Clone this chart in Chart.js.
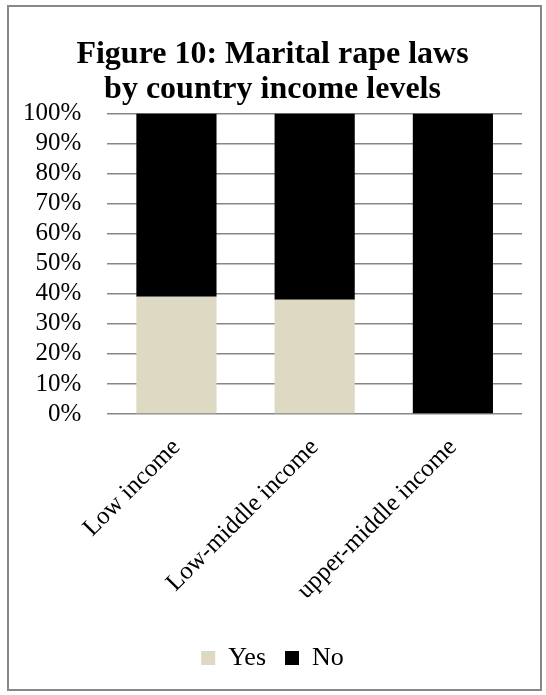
<!DOCTYPE html>
<html lang="en">
<head>
  <meta charset="UTF-8" />
  <title>Figure 10</title>
  <style>
    html, body { margin: 0; padding: 0; background: #fff; }
    .chart-box {
      position: absolute; left: 7px; top: 5px;
      width: 535px; height: 686px;
      border: 2px solid #888; box-sizing: border-box;
    }
  </style>
</head>
<body>

<div class="chart-box">
  <canvas id="rapeLawChart"></canvas>
</div>

<script src="https://cdn.jsdelivr.net/npm/chart.js"></script>
<script>
  const categories = ['Low income', 'Low-middle income', 'upper-middle income'];
  const yesValues = [39, 38, 0];
  const noValues = [61, 62, 100];

  const serif = 'Liberation Serif, Times New Roman, serif';

  new Chart(document.getElementById('rapeLawChart'), {
    type: 'bar',
    data: {
      labels: categories,
      datasets: [
        { label: 'Yes', data: yesValues, backgroundColor: '#ddd9c3' },
        { label: 'No', data: noValues, backgroundColor: '#000000' }
      ]
    },
    options: {
      responsive: true,
      maintainAspectRatio: false,
      animation: false,
      layout: { padding: { left: 14, right: 18, top: 0, bottom: 8 } },
      datasets: { bar: { categoryPercentage: 1, barPercentage: 0.58 } },
      scales: {
        x: {
          stacked: true,
          grid: { display: false },
          border: { display: false },
          ticks: {
            color: '#000', font: { family: serif, size: 25 },
            minRotation: 45, maxRotation: 45, padding: 11, autoSkip: false
          },
          // keep the rotated labels from pushing the plot area around
          afterFit: axis => {
            axis.height = 212;
            axis.paddingLeft = 0;
            axis.paddingRight = 0;
          }
        },
        y: {
          stacked: true,
          min: 0, max: 100,
          grid: { color: '#878787', lineWidth: 1.5, drawTicks: false },
          border: { display: false },
          ticks: {
            stepSize: 10, color: '#000', padding: 26, autoSkip: false,
            font: { family: serif, size: 25 },
            callback: v => v + '%'
          },
          // padding gets counted twice in the width, drop one
          afterFit: axis => { axis.width -= axis.options.ticks.padding; }
        }
      },
      plugins: {
        title: {
          display: true,
          text: ['Figure 10: Marital rape laws', 'by country income levels'],
          color: '#000',
          font: { family: serif, size: 32, weight: 'bold', lineHeight: 1.1 },
          padding: { top: 30, bottom: 6 }
        },
        legend: {
          position: 'bottom',
          labels: {
            color: '#000', boxWidth: 14, boxHeight: 14,
            font: { family: serif, size: 26 }, padding: 19
          }
        },
        tooltip: { enabled: false }
      }
    }
  });
</script>

</body>
</html>
